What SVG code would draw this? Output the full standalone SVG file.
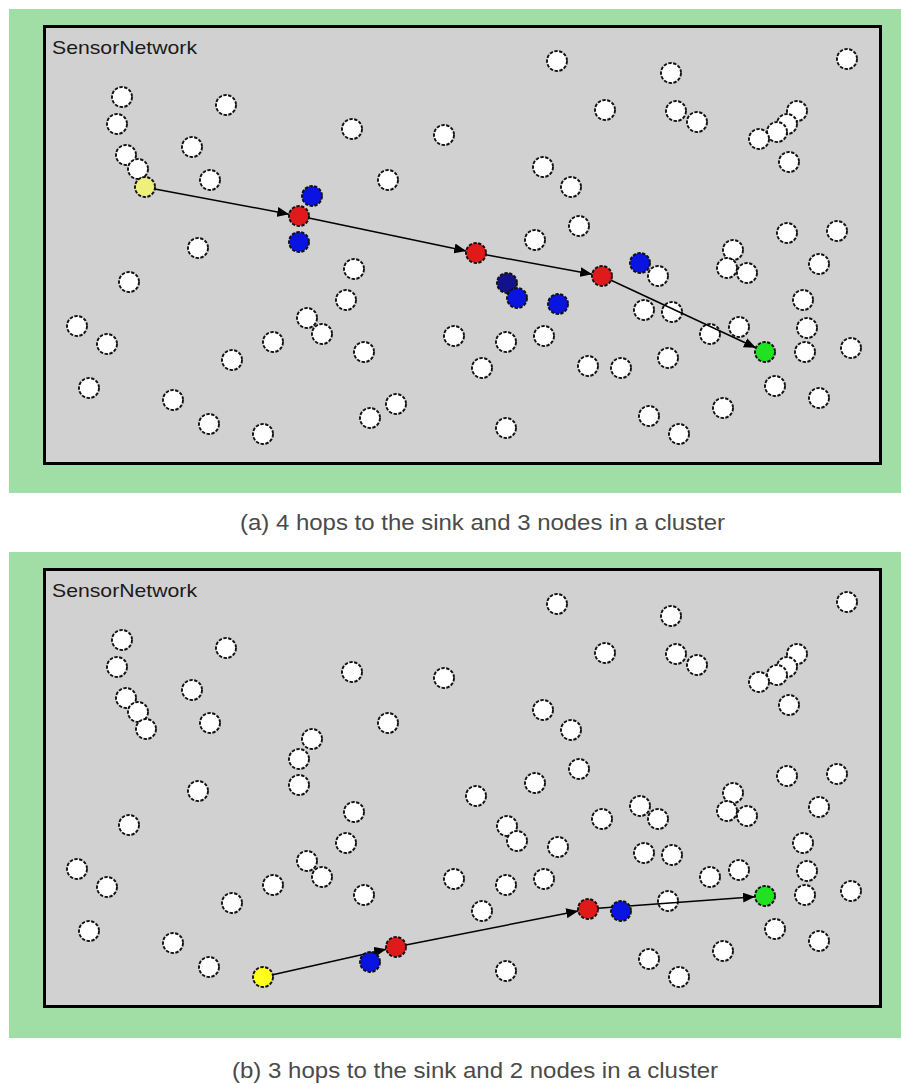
<svg xmlns="http://www.w3.org/2000/svg" xmlns:xlink="http://www.w3.org/1999/xlink" width="901" height="1084" viewBox="0 0 901 1084">
<style>
.frame{fill:#a1dea5}
.field{fill:#d1d1d1;stroke:#000;stroke-width:3}
.title{font-family:"Liberation Sans",Arial,sans-serif;font-size:19px;fill:#1a1a1a}
.cap{font-family:"Liberation Sans",Arial,sans-serif;font-size:22px;fill:#4a4a4a}
circle{stroke:#111;stroke-width:1.9;stroke-dasharray:3.4 1.5}
.w circle{fill:#ffffff}
.y1 circle{fill:#eef07c}
.y2 circle{fill:#ffff1e}
.r circle{fill:#e01a1a}
.b circle{fill:#0a14e2}
.nv circle{fill:#12128c}
.g circle{fill:#22e022}
.conn line{stroke:#000;stroke-width:1.5;marker-end:url(#ah)}
</style>
<defs>
<marker id="ah" markerUnits="userSpaceOnUse" markerWidth="13" markerHeight="10" refX="12" refY="5" orient="auto">
<path d="M0,0 L12,5 L0,10 z" fill="#000"/>
</marker>
</defs>
<rect width="901" height="1084" fill="#ffffff"/>

<!-- Panel (a) -->
<g id="panel-a">
<rect class="frame" x="9" y="9" width="892" height="484"/>
<rect class="field" x="44.5" y="26.5" width="836" height="437"/>
<text class="title" x="52" y="54" textLength="145" lengthAdjust="spacingAndGlyphs">SensorNetwork</text>
<g id="a-w1" class="w"><circle cx="122" cy="97" r="10"/></g>
<g id="a-w2" class="w"><circle cx="117" cy="124" r="10"/></g>
<g id="a-w3" class="w"><circle cx="226" cy="105" r="10"/></g>
<g id="a-w4" class="w"><circle cx="352" cy="129" r="10"/></g>
<g id="a-w5" class="w"><circle cx="444" cy="135" r="10"/></g>
<g id="a-w6" class="w"><circle cx="192" cy="147" r="10"/></g>
<g id="a-w7" class="w"><circle cx="126" cy="155" r="10"/></g>
<g id="a-w8" class="w"><circle cx="138" cy="169" r="10"/></g>
<g id="a-w9" class="w"><circle cx="210" cy="180" r="10"/></g>
<g id="a-w10" class="w"><circle cx="388" cy="180" r="10"/></g>
<g id="a-w11" class="w"><circle cx="198" cy="248" r="10"/></g>
<g id="a-w12" class="w"><circle cx="557" cy="61" r="10"/></g>
<g id="a-w13" class="w"><circle cx="671" cy="73" r="10"/></g>
<g id="a-w14" class="w"><circle cx="847" cy="59" r="10"/></g>
<g id="a-w15" class="w"><circle cx="605" cy="110" r="10"/></g>
<g id="a-w16" class="w"><circle cx="676" cy="111" r="10"/></g>
<g id="a-w17" class="w"><circle cx="697" cy="122" r="10"/></g>
<g id="a-w18" class="w"><circle cx="797" cy="111" r="10"/></g>
<g id="a-w19" class="w"><circle cx="787" cy="124" r="10"/></g>
<g id="a-w20" class="w"><circle cx="777" cy="132" r="10"/></g>
<g id="a-w21" class="w"><circle cx="759" cy="139" r="10"/></g>
<g id="a-w22" class="w"><circle cx="789" cy="162" r="10"/></g>
<g id="a-w23" class="w"><circle cx="543" cy="167" r="10"/></g>
<g id="a-w24" class="w"><circle cx="571" cy="187" r="10"/></g>
<g id="a-w25" class="w"><circle cx="579" cy="226" r="10"/></g>
<g id="a-w26" class="w"><circle cx="535" cy="240" r="10"/></g>
<g id="a-w27" class="w"><circle cx="733" cy="250" r="10"/></g>
<g id="a-w28" class="w"><circle cx="787" cy="233" r="10"/></g>
<g id="a-w29" class="w"><circle cx="837" cy="231" r="10"/></g>
<g id="a-w30" class="w"><circle cx="129" cy="282" r="10"/></g>
<g id="a-w31" class="w"><circle cx="354" cy="269" r="10"/></g>
<g id="a-w32" class="w"><circle cx="346" cy="300" r="10"/></g>
<g id="a-w33" class="w"><circle cx="307" cy="318" r="10"/></g>
<g id="a-w34" class="w"><circle cx="322" cy="334" r="10"/></g>
<g id="a-w35" class="w"><circle cx="77" cy="326" r="10"/></g>
<g id="a-w36" class="w"><circle cx="107" cy="344" r="10"/></g>
<g id="a-w37" class="w"><circle cx="273" cy="342" r="10"/></g>
<g id="a-w38" class="w"><circle cx="232" cy="360" r="10"/></g>
<g id="a-w39" class="w"><circle cx="364" cy="352" r="10"/></g>
<g id="a-w40" class="w"><circle cx="454" cy="336" r="10"/></g>
<g id="a-w41" class="w"><circle cx="89" cy="388" r="10"/></g>
<g id="a-w42" class="w"><circle cx="173" cy="400" r="10"/></g>
<g id="a-w43" class="w"><circle cx="209" cy="424" r="10"/></g>
<g id="a-w44" class="w"><circle cx="263" cy="434" r="10"/></g>
<g id="a-w45" class="w"><circle cx="370" cy="418" r="10"/></g>
<g id="a-w46" class="w"><circle cx="396" cy="404" r="10"/></g>
<g id="a-w47" class="w"><circle cx="658" cy="276" r="10"/></g>
<g id="a-w48" class="w"><circle cx="727" cy="268" r="10"/></g>
<g id="a-w49" class="w"><circle cx="747" cy="273" r="10"/></g>
<g id="a-w50" class="w"><circle cx="819" cy="264" r="10"/></g>
<g id="a-w51" class="w"><circle cx="803" cy="300" r="10"/></g>
<g id="a-w52" class="w"><circle cx="807" cy="328" r="10"/></g>
<g id="a-w53" class="w"><circle cx="805" cy="352" r="10"/></g>
<g id="a-w54" class="w"><circle cx="851" cy="348" r="10"/></g>
<g id="a-w55" class="w"><circle cx="644" cy="310" r="10"/></g>
<g id="a-w56" class="w"><circle cx="672" cy="312" r="10"/></g>
<g id="a-w57" class="w"><circle cx="710" cy="334" r="10"/></g>
<g id="a-w58" class="w"><circle cx="739" cy="327" r="10"/></g>
<g id="a-w59" class="w"><circle cx="506" cy="342" r="10"/></g>
<g id="a-w60" class="w"><circle cx="544" cy="336" r="10"/></g>
<g id="a-w61" class="w"><circle cx="482" cy="368" r="10"/></g>
<g id="a-w62" class="w"><circle cx="588" cy="366" r="10"/></g>
<g id="a-w63" class="w"><circle cx="621" cy="368" r="10"/></g>
<g id="a-w64" class="w"><circle cx="668" cy="358" r="10"/></g>
<g id="a-w65" class="w"><circle cx="775" cy="386" r="10"/></g>
<g id="a-w66" class="w"><circle cx="819" cy="398" r="10"/></g>
<g id="a-w67" class="w"><circle cx="723" cy="408" r="10"/></g>
<g id="a-w68" class="w"><circle cx="649" cy="416" r="10"/></g>
<g id="a-w69" class="w"><circle cx="679" cy="434" r="10"/></g>
<g id="a-w70" class="w"><circle cx="506" cy="428" r="10"/></g>
<g id="a-connectors" class="conn">
<line x1="154.8" y1="188.9" x2="289.2" y2="214.2"/>
<line x1="308.8" y1="218.0" x2="466.2" y2="250.9"/>
<line x1="485.8" y1="254.8" x2="592.2" y2="274.2"/>
<line x1="611.1" y1="280.2" x2="755.9" y2="347.8"/>
</g>
<g id="a-source" class="y1"><circle cx="145" cy="187" r="10"/></g>
<g id="a-b1" class="b"><circle cx="312" cy="196" r="10"/></g>
<g id="a-r1" class="r"><circle cx="299" cy="216" r="10"/></g>
<g id="a-b2" class="b"><circle cx="299" cy="242" r="10"/></g>
<g id="a-r2" class="r"><circle cx="476" cy="253" r="10"/></g>
<g id="a-b3" class="nv"><circle cx="507" cy="283" r="10"/></g>
<g id="a-b4" class="b"><circle cx="517" cy="298" r="10"/></g>
<g id="a-b5" class="b"><circle cx="558" cy="304" r="10"/></g>
<g id="a-b6" class="b"><circle cx="640" cy="263" r="10"/></g>
<g id="a-r3" class="r"><circle cx="602" cy="276" r="10"/></g>
<g id="a-sink" class="g"><circle cx="765" cy="352" r="10"/></g>
</g>
<text class="cap" x="240" y="530" textLength="485" lengthAdjust="spacingAndGlyphs">(a) 4 hops to the sink and 3 nodes in a cluster</text>

<!-- Panel (b) -->
<g id="panel-b" transform="translate(0,543)">
<rect class="frame" x="9" y="9" width="892" height="486"/>
<rect class="field" x="44.5" y="26.5" width="836" height="437"/>
<text class="title" x="52" y="54" textLength="145" lengthAdjust="spacingAndGlyphs">SensorNetwork</text>
<g id="b-w1" class="w"><circle cx="122" cy="97" r="10"/></g>
<g id="b-w2" class="w"><circle cx="117" cy="124" r="10"/></g>
<g id="b-w3" class="w"><circle cx="226" cy="105" r="10"/></g>
<g id="b-w4" class="w"><circle cx="352" cy="129" r="10"/></g>
<g id="b-w5" class="w"><circle cx="444" cy="135" r="10"/></g>
<g id="b-w6" class="w"><circle cx="192" cy="147" r="10"/></g>
<g id="b-w7" class="w"><circle cx="126" cy="155" r="10"/></g>
<g id="b-w8" class="w"><circle cx="138" cy="169" r="10"/></g>
<g id="b-w9" class="w"><circle cx="146" cy="186" r="10"/></g>
<g id="b-w10" class="w"><circle cx="210" cy="180" r="10"/></g>
<g id="b-w11" class="w"><circle cx="388" cy="180" r="10"/></g>
<g id="b-w12" class="w"><circle cx="198" cy="248" r="10"/></g>
<g id="b-w13" class="w"><circle cx="312" cy="196" r="10"/></g>
<g id="b-w14" class="w"><circle cx="299" cy="216" r="10"/></g>
<g id="b-w15" class="w"><circle cx="299" cy="242" r="10"/></g>
<g id="b-w16" class="w"><circle cx="557" cy="61" r="10"/></g>
<g id="b-w17" class="w"><circle cx="671" cy="73" r="10"/></g>
<g id="b-w18" class="w"><circle cx="847" cy="59" r="10"/></g>
<g id="b-w19" class="w"><circle cx="605" cy="110" r="10"/></g>
<g id="b-w20" class="w"><circle cx="676" cy="111" r="10"/></g>
<g id="b-w21" class="w"><circle cx="697" cy="122" r="10"/></g>
<g id="b-w22" class="w"><circle cx="797" cy="111" r="10"/></g>
<g id="b-w23" class="w"><circle cx="787" cy="124" r="10"/></g>
<g id="b-w24" class="w"><circle cx="777" cy="132" r="10"/></g>
<g id="b-w25" class="w"><circle cx="759" cy="139" r="10"/></g>
<g id="b-w26" class="w"><circle cx="789" cy="162" r="10"/></g>
<g id="b-w27" class="w"><circle cx="543" cy="167" r="10"/></g>
<g id="b-w28" class="w"><circle cx="571" cy="187" r="10"/></g>
<g id="b-w29" class="w"><circle cx="579" cy="226" r="10"/></g>
<g id="b-w30" class="w"><circle cx="535" cy="240" r="10"/></g>
<g id="b-w31" class="w"><circle cx="733" cy="250" r="10"/></g>
<g id="b-w32" class="w"><circle cx="787" cy="233" r="10"/></g>
<g id="b-w33" class="w"><circle cx="837" cy="231" r="10"/></g>
<g id="b-w34" class="w"><circle cx="129" cy="282" r="10"/></g>
<g id="b-w35" class="w"><circle cx="354" cy="269" r="10"/></g>
<g id="b-w36" class="w"><circle cx="346" cy="300" r="10"/></g>
<g id="b-w37" class="w"><circle cx="307" cy="318" r="10"/></g>
<g id="b-w38" class="w"><circle cx="322" cy="334" r="10"/></g>
<g id="b-w39" class="w"><circle cx="77" cy="326" r="10"/></g>
<g id="b-w40" class="w"><circle cx="107" cy="344" r="10"/></g>
<g id="b-w41" class="w"><circle cx="273" cy="342" r="10"/></g>
<g id="b-w42" class="w"><circle cx="232" cy="360" r="10"/></g>
<g id="b-w43" class="w"><circle cx="364" cy="352" r="10"/></g>
<g id="b-w44" class="w"><circle cx="454" cy="336" r="10"/></g>
<g id="b-w45" class="w"><circle cx="89" cy="388" r="10"/></g>
<g id="b-w46" class="w"><circle cx="173" cy="400" r="10"/></g>
<g id="b-w47" class="w"><circle cx="209" cy="424" r="10"/></g>
<g id="b-w48" class="w"><circle cx="476" cy="253" r="10"/></g>
<g id="b-w49" class="w"><circle cx="507" cy="283" r="10"/></g>
<g id="b-w50" class="w"><circle cx="517" cy="298" r="10"/></g>
<g id="b-w51" class="w"><circle cx="558" cy="304" r="10"/></g>
<g id="b-w52" class="w"><circle cx="640" cy="263" r="10"/></g>
<g id="b-w53" class="w"><circle cx="602" cy="276" r="10"/></g>
<g id="b-w54" class="w"><circle cx="658" cy="276" r="10"/></g>
<g id="b-w55" class="w"><circle cx="727" cy="268" r="10"/></g>
<g id="b-w56" class="w"><circle cx="747" cy="273" r="10"/></g>
<g id="b-w57" class="w"><circle cx="819" cy="264" r="10"/></g>
<g id="b-w58" class="w"><circle cx="803" cy="300" r="10"/></g>
<g id="b-w59" class="w"><circle cx="807" cy="328" r="10"/></g>
<g id="b-w60" class="w"><circle cx="805" cy="352" r="10"/></g>
<g id="b-w61" class="w"><circle cx="851" cy="348" r="10"/></g>
<g id="b-w62" class="w"><circle cx="644" cy="310" r="10"/></g>
<g id="b-w63" class="w"><circle cx="672" cy="312" r="10"/></g>
<g id="b-w64" class="w"><circle cx="710" cy="334" r="10"/></g>
<g id="b-w65" class="w"><circle cx="739" cy="327" r="10"/></g>
<g id="b-w66" class="w"><circle cx="506" cy="342" r="10"/></g>
<g id="b-w67" class="w"><circle cx="544" cy="336" r="10"/></g>
<g id="b-w68" class="w"><circle cx="482" cy="368" r="10"/></g>
<g id="b-w69" class="w"><circle cx="668" cy="358" r="10"/></g>
<g id="b-w70" class="w"><circle cx="775" cy="386" r="10"/></g>
<g id="b-w71" class="w"><circle cx="819" cy="398" r="10"/></g>
<g id="b-w72" class="w"><circle cx="723" cy="408" r="10"/></g>
<g id="b-w73" class="w"><circle cx="649" cy="416" r="10"/></g>
<g id="b-w74" class="w"><circle cx="679" cy="434" r="10"/></g>
<g id="b-w75" class="w"><circle cx="506" cy="428" r="10"/></g>
<g id="b-connectors" class="conn">
<line x1="272.8" y1="431.8" x2="386.2" y2="406.2"/>
<line x1="405.8" y1="402.1" x2="578.2" y2="367.9"/>
<line x1="598" y1="365.3" x2="755" y2="353.7"/>
</g>
<g id="b-source" class="y2"><circle cx="263" cy="434" r="10"/></g>
<g id="b-b1" class="b"><circle cx="370" cy="419" r="10"/></g>
<g id="b-r1" class="r"><circle cx="396" cy="404" r="10"/></g>
<g id="b-r2" class="r"><circle cx="588" cy="366" r="10"/></g>
<g id="b-b2" class="b"><circle cx="621" cy="368" r="10"/></g>
<g id="b-sink" class="g"><circle cx="765" cy="353" r="10"/></g>
</g>
<text class="cap" x="232" y="1078" textLength="486" lengthAdjust="spacingAndGlyphs">(b) 3 hops to the sink and 2 nodes in a cluster</text>
</svg>
